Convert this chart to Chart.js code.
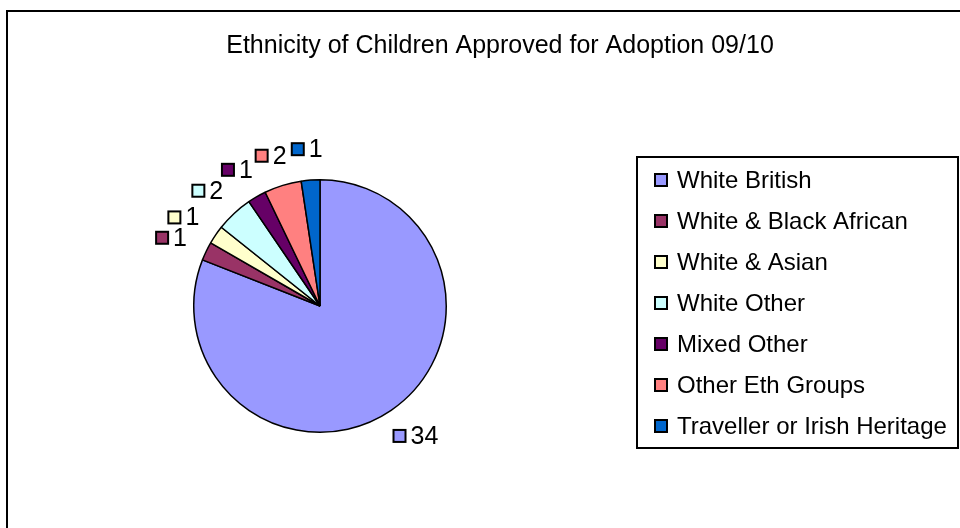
<!DOCTYPE html>
<html>
<head>
<meta charset="utf-8">
<title>Ethnicity of Children Approved for Adoption 09/10</title>
<script src="https://cdn.jsdelivr.net/npm/chart.js@4"></script>
<style>
  html, body { margin: 0; padding: 0; background: #fff; }
  #wrap { width: 960px; height: 528px; }
</style>
</head>
<body>
<div id="wrap"><canvas id="grafico" width="960" height="528"></canvas></div>
<script>
const titulo = 'Ethnicity of Children Approved for Adoption 09/10';
const categorias = ['White British', 'White & Black African', 'White & Asian', 'White Other',
                    'Mixed Other', 'Other Eth Groups', 'Traveller or Irish Heritage'];
const valores = [34, 1, 1, 2, 1, 2, 1];
const cores = ['#9999FF', '#993366', '#FFFFCC', '#CCFFFF', '#660066', '#FF8080', '#0066CC'];

const FONTE = '"Liberation Sans", Arial, sans-serif';

// moldura, titulo, legenda e rotulos desenhados a mao (estilo Excel antigo)
const decoracao = {
    id: 'decoracao',
    beforeDraw(chart) {
        const ctx = chart.ctx;
        ctx.save();
        ctx.fillStyle = '#fff';
        ctx.fillRect(0, 0, chart.width, chart.height);
        ctx.strokeStyle = '#000';
        ctx.lineWidth = 2;
        ctx.beginPath();
        ctx.moveTo(7, chart.height + 2);
        ctx.lineTo(7, 11);
        ctx.lineTo(chart.width + 2, 11);
        ctx.stroke();

        ctx.fillStyle = '#000';
        ctx.font = '25px ' + FONTE;
        ctx.textAlign = 'center';
        ctx.textBaseline = 'middle';
        ctx.fillText(titulo, 500, 46);
        ctx.restore();
    },
    afterDraw(chart) {
        const ctx = chart.ctx;
        ctx.save();

        // legenda
        const lx = 637, ly = 157, lw = 321, lh = 291;
        ctx.strokeStyle = '#000';
        ctx.lineWidth = 2;
        ctx.strokeRect(lx, ly, lw, lh);
        ctx.font = '24px ' + FONTE;
        ctx.textAlign = 'left';
        ctx.textBaseline = 'middle';
        categorias.forEach((nome, i) => {
            const y = 180 + i * 41;
            ctx.fillStyle = cores[i];
            ctx.fillRect(655, y - 6, 12, 12);
            ctx.lineWidth = 2;
            ctx.strokeRect(655, y - 6, 12, 12);
            ctx.fillStyle = '#000';
            ctx.fillText(nome, 677, y + 1);
        });

        // rotulos de valor fora da pizza
        const meta = chart.getDatasetMeta(0);
        ctx.font = '25px ' + FONTE;
        meta.data.forEach((arc, i) => {
            const p = arc.getProps(['x', 'y', 'startAngle', 'endAngle', 'outerRadius'], true);
            const meio = (p.startAngle + p.endAngle) / 2;
            const dx = Math.cos(meio), dy = Math.sin(meio);
            const texto = String(valores[i]);
            const tw = ctx.measureText(texto).width;
            const w = 12 + 6 + tw, h = 18;
            const dist = p.outerRadius + 22;
            const ax = p.x + dx * dist, ay = p.y + dy * dist;
            const left = ax - w * (1 - dx) / 2;
            const top = ay - h * (1 - dy) / 2;
            ctx.fillStyle = cores[i];
            ctx.fillRect(left, top + 3, 12, 12);
            ctx.lineWidth = 2;
            ctx.strokeStyle = '#000';
            ctx.strokeRect(left, top + 3, 12, 12);
            ctx.fillStyle = '#000';
            ctx.fillText(texto, left + 17, top + h / 2 + 1);
        });
        ctx.restore();
    }
};

new Chart(document.getElementById('grafico'), {
    type: 'pie',
    data: {
        labels: categorias,
        datasets: [{
            data: valores,
            backgroundColor: cores,
            borderColor: '#000',
            borderWidth: 1.5
        }]
    },
    options: {
        responsive: false,
        animation: false,
        layout: { padding: { left: 193, right: 513, top: 179, bottom: 95 } },
        plugins: {
            legend: { display: false },
            title: { display: false },
            tooltip: { enabled: false }
        }
    },
    plugins: [decoracao]
});
</script>
</body>
</html>
